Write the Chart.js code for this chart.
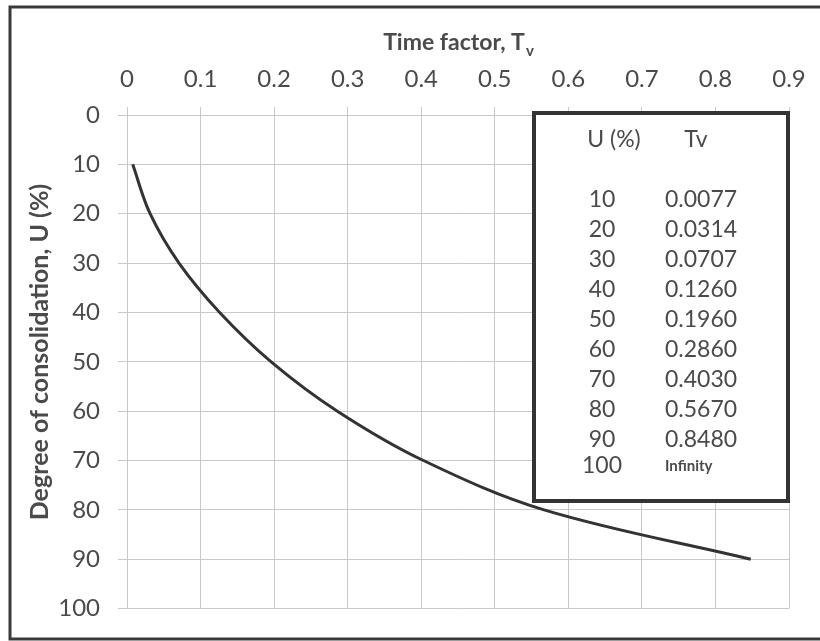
<!DOCTYPE html>
<html>
<head>
<meta charset="utf-8">
<script src="https://cdn.jsdelivr.net/npm/chart.js@4"></script>
<style>
  body { margin: 0; background: #fff; }
  canvas { display: block; }
</style>
</head>
<body>
<canvas id="chart" width="820" height="641"></canvas>
<script>
// Degree of consolidation vs time factor
const uValues = [10, 20, 30, 40, 50, 60, 70, 80, 90];
const tvValues = [0.0077, 0.0314, 0.0707, 0.1260, 0.1960, 0.2860, 0.4030, 0.5670, 0.8480];
const tableU = ['10', '20', '30', '40', '50', '60', '70', '80', '90', '100'];
const tableTv = ['0.0077', '0.0314', '0.0707', '0.1260', '0.1960', '0.2860', '0.4030', '0.5670', '0.8480', 'Infinity'];
const xTitle = 'Time factor, T';
const xTitleSub = 'v';
const yTitle = 'Degree of consolidation, U (%)';

const textColor = '#4a4a4a';
const gridColor = '#c9c9c9';
const fontFamily = 'Lato, "Open Sans", sans-serif';

const points = tvValues.map((t, i) => ({ x: t, y: uValues[i] }));

// frame, titles and the little table
const extras = {
  id: 'extras',
  beforeDraw(chart) {
    const c = chart.ctx;
    c.save();
    c.strokeStyle = '#3a3a3a';
    c.lineWidth = 3;
    c.beginPath();
    c.moveTo(820, 7);
    c.lineTo(10, 7);
    c.lineTo(10, 639);
    c.lineTo(820, 639);
    c.stroke();
    c.restore();
  },
  afterDraw(chart) {
    const c = chart.ctx;
    const a = chart.chartArea;
    c.save();
    c.fillStyle = textColor;

    // x title with subscript
    c.font = 'bold 23px ' + fontFamily;
    c.textBaseline = 'middle';
    c.textAlign = 'left';
    const w1 = c.measureText(xTitle).width;
    c.font = 'bold 15px ' + fontFamily;
    const w2 = c.measureText(xTitleSub).width;
    const cx = (a.left + a.right) / 2;
    const x0 = cx - (w1 + w2) / 2;
    c.font = 'bold 23px ' + fontFamily;
    c.fillText(xTitle, x0, 43);
    c.font = 'bold 15px ' + fontFamily;
    c.fillText(xTitleSub, x0 + w1 + 1, 51);

    // y title
    c.save();
    c.translate(40, 352);
    c.rotate(-Math.PI / 2);
    c.font = 'bold 25px ' + fontFamily;
    c.textAlign = 'center';
    c.fillText(yTitle, 0, 0);
    c.restore();

    // table box
    const bx = a.right - 255, by = a.top - 2, bw = 254, bh = 388;
    c.fillStyle = '#fff';
    c.fillRect(bx, by, bw, bh);
    c.strokeStyle = '#333';
    c.lineWidth = 4;
    c.strokeRect(bx, by, bw, bh);

    c.fillStyle = textColor;
    c.font = '23px ' + fontFamily;
    c.textAlign = 'center';
    c.fillText('U (%)', bx + 80, by + 27);
    c.fillText('Tv', bx + 162, by + 27);
    tableU.forEach((u, i) => {
      const y = i < 9 ? by + 87 + i * 30 : by + 353;
      c.font = '23px ' + fontFamily;
      c.textAlign = 'center';
      c.fillText(u, bx + 68, y);
      c.textAlign = 'left';
      if (tableTv[i] === 'Infinity') {
        c.font = 'bold 15px ' + fontFamily;
      }
      c.fillText(tableTv[i], bx + 131, y);
    });
    c.restore();
  }
};

new Chart(document.getElementById('chart'), {
  type: 'scatter',
  data: {
    datasets: [{
      data: points,
      showLine: true,
      borderColor: '#333',
      borderWidth: 3,
      pointRadius: 0,
      tension: 0.35
    }]
  },
  options: {
    responsive: false,
    animation: false,
    layout: { padding: { left: 0, top: 0, right: 31, bottom: 25 } },
    plugins: { legend: { display: false }, tooltip: { enabled: false } },
    scales: {
      x: {
        type: 'linear',
        position: 'top',
        min: 0,
        max: 0.9,
        afterFit: s => { s.height = 115; },
        ticks: {
          stepSize: 0.1,
          padding: 13,
          color: textColor,
          font: { family: fontFamily, size: 24 },
          callback: v => String(+v.toFixed(1))
        },
        grid: { color: gridColor, tickLength: 8, lineWidth: 1 },
        border: { color: gridColor }
      },
      y: {
        type: 'linear',
        min: 0,
        max: 100,
        reverse: true,
        afterFit: s => { s.width = 127; },
        ticks: {
          stepSize: 10,
          padding: 18,
          color: textColor,
          font: { family: fontFamily, size: 24 }
        },
        grid: { color: gridColor, tickLength: 9, lineWidth: 1 },
        border: { color: gridColor }
      }
    }
  },
  plugins: [extras]
});
</script>
</body>
</html>
